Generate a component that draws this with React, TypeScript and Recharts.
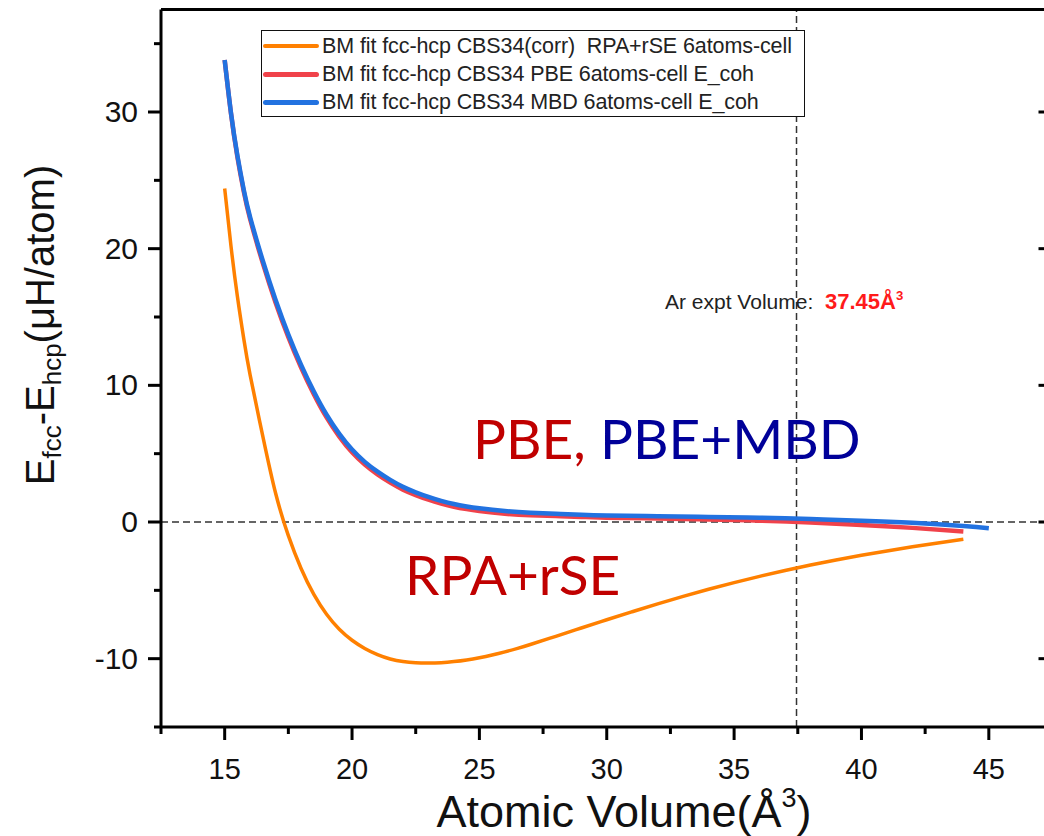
import React from "react";
import { LineChart, Line, XAxis, YAxis, ReferenceLine, Legend } from "recharts";

// axis ticks (minor every 2.5 / 5, labels only on the major ones)
const xTicks = [12.5, 15, 17.5, 20, 22.5, 25, 27.5, 30, 32.5, 35, 37.5, 40, 42.5, 45, 47.5];
const yTicks = [-15, -10, -5, 0, 5, 10, 15, 20, 25, 30, 35];
const xDomain = [12.5, 47.5];
const yDomain = [-15, 37.5];
const exptVolume = 37.45;

// RPA+rSE
const rpaVolume = [15, 15.25, 15.5, 15.75, 16, 16.5, 17, 17.5, 18, 18.5, 19, 19.5, 20, 20.5, 21, 21.5, 22, 22.5, 23, 23.5, 24, 24.5, 25, 25.5, 26, 26.5, 27, 28, 29, 30, 31, 32, 33, 34, 35, 36, 37, 38, 39, 40, 41, 42, 43, 44];
const rpaEnergy = [24.4, 20.15, 16.5, 13.4, 10.75, 6.25, 2.1, -1.0, -3.4, -5.3, -6.75, -7.85, -8.65, -9.25, -9.7, -10.02, -10.21, -10.3, -10.32, -10.29, -10.21, -10.09, -9.93, -9.735, -9.505, -9.245, -8.965, -8.365, -7.755, -7.155, -6.565, -5.995, -5.445, -4.925, -4.435, -3.975, -3.545, -3.145, -2.775, -2.435, -2.115, -1.815, -1.53, -1.26];

// PBE
const pbeVolume = [15, 15.25, 15.5, 15.75, 16, 16.5, 17, 17.5, 18, 18.5, 19, 19.5, 20, 20.5, 21, 21.5, 22, 22.5, 23, 23.5, 24, 24.5, 25, 26, 27, 28, 29, 30, 32, 34, 36, 38, 40, 42, 44];
const pbeEnergy = [33.8, 29.85, 26.7, 24.17, 22.15, 18.92, 16.05, 13.52, 11.3, 9.35, 7.65, 6.25, 5.1, 4.2, 3.48, 2.88, 2.37, 1.97, 1.63, 1.35, 1.12, 0.94, 0.8, 0.6, 0.49, 0.43, 0.37, 0.32, 0.25, 0.18, 0.1, -0.03, -0.22, -0.43, -0.7];

// PBE+MBD
const mbdVolume = [15, 15.25, 15.5, 15.75, 16, 16.5, 17, 17.5, 18, 18.5, 19, 19.5, 20, 20.5, 21, 21.5, 22, 22.5, 23, 23.5, 24, 24.5, 25, 26, 27, 28, 29, 30, 32, 34, 36, 38, 40, 42, 44, 45];
const mbdEnergy = [33.8, 29.9, 26.8, 24.3, 22.3, 19.1, 16.25, 13.72, 11.5, 9.55, 7.85, 6.45, 5.3, 4.4, 3.68, 3.08, 2.57, 2.17, 1.83, 1.55, 1.32, 1.14, 1.0, 0.8, 0.68, 0.6, 0.53, 0.48, 0.42, 0.37, 0.32, 0.22, 0.1, -0.06, -0.3, -0.46];

const seriesNames = [
  "BM fit fcc-hcp CBS34(corr)  RPA+rSE 6atoms-cell",
  "BM fit fcc-hcp CBS34 PBE 6atoms-cell E_coh",
  "BM fit fcc-hcp CBS34 MBD 6atoms-cell E_coh",
];
const seriesColors = ["#ff8000", "#f0424a", "#2272e0"];
const seriesWidths = [3.5, 4.5, 4.5];

const toPoints = (xs: number[], ys: number[]) => xs.map((x, i) => ({ x, y: ys[i] }));
const rpaData = toPoints(rpaVolume, rpaEnergy);
const pbeData = toPoints(pbeVolume, pbeEnergy);
const mbdData = toPoints(mbdVolume, mbdEnergy);

const FONT = "'Liberation Sans', Arial, Helvetica, sans-serif";

const xMajor = (v: number) => Number.isInteger(v) && v % 5 === 0;
const yMajor = (v: number) => v % 10 === 0;

function BottomTick(props: any) {
  const { x, y, payload } = props;
  const major = xMajor(payload.value);
  return (
    <g>
      <line x1={x} y1={y} x2={x} y2={y + (major ? 13 : 7)} stroke="#000" strokeWidth={3} />
      {major && (
        <text x={x} y={y + 52} textAnchor="middle" fontSize={29} fontFamily={FONT} fill="#111">
          {payload.value}
        </text>
      )}
    </g>
  );
}

function TopTick(props: any) {
  const { x, y, payload } = props;
  const major = xMajor(payload.value);
  return <line x1={x} y1={y} x2={x} y2={y + (major ? 13 : 6)} stroke="#000" strokeWidth={3} />;
}

function LeftTick(props: any) {
  const { x, y, payload } = props;
  const major = yMajor(payload.value);
  return (
    <g>
      <line x1={x} y1={y} x2={x - (major ? 13 : 7)} y2={y} stroke="#000" strokeWidth={3} />
      {major && (
        <text x={x - 23} y={y + 10} textAnchor="end" fontSize={30} fontFamily={FONT} fill="#111">
          {payload.value}
        </text>
      )}
    </g>
  );
}

function RightTick(props: any) {
  const { x, y, payload } = props;
  const major = yMajor(payload.value);
  return <line x1={x} y1={y} x2={x - (major ? 14 : 7)} y2={y} stroke="#000" strokeWidth={3} />;
}

function LegendBox(props: any) {
  // keep the plotting order, not the alphabetical one
  const payload = [...(props.payload || [])].sort(
    (a: any, b: any) => seriesNames.indexOf(a.value) - seriesNames.indexOf(b.value)
  );
  return (
    <div
      style={{
        width: 542,
        height: 84,
        border: "1.5px solid #111",
        background: "#fff",
        fontFamily: FONT,
        boxSizing: "content-box",
        paddingTop: 1,
      }}
    >
      {payload.map((p: any, i: number) => {
        const k = seriesNames.indexOf(p.value);
        return (
          <div key={i} style={{ display: "flex", alignItems: "center", height: 28 }}>
            <div
              style={{
                width: 56,
                height: seriesWidths[k] + 0.5,
                background: p.color,
                borderRadius: 3,
                marginLeft: 1,
              }}
            />
            <span style={{ marginLeft: 3, fontSize: 21.5, color: "#222", whiteSpace: "pre", letterSpacing: -0.1 }}>
              {p.value}
            </span>
          </div>
        );
      })}
    </div>
  );
}

export default function App() {
  return (
    <div
      style={{
        position: "absolute",
        left: 0,
        top: 0,
        width: 1044,
        height: 836,
        overflow: "hidden",
        background: "#fff",
        fontFamily: FONT,
      }}
    >
      <LineChart width={1072} height={836} margin={{ top: 9.5, right: 19.5, left: 81, bottom: 49 }}>
        <XAxis
          dataKey="x"
          type="number"
          domain={xDomain}
          ticks={xTicks}
          interval={0}
          allowDataOverflow
          height={60}
          tickSize={0}
          tickMargin={0}
          tickLine={false}
          tick={BottomTick}
          axisLine={{ stroke: "#000", strokeWidth: 3 }}
        />
        <XAxis
          xAxisId="top"
          orientation="top"
          mirror
          type="number"
          domain={xDomain}
          ticks={xTicks}
          interval={0}
          allowDataOverflow
          tickSize={0}
          tickMargin={0}
          tickLine={false}
          tick={TopTick}
          axisLine={{ stroke: "#000", strokeWidth: 3 }}
        />
        <YAxis
          type="number"
          domain={yDomain}
          ticks={yTicks}
          interval={0}
          allowDataOverflow
          width={80}
          tickSize={0}
          tickMargin={0}
          tickLine={false}
          tick={LeftTick}
          axisLine={{ stroke: "#000", strokeWidth: 3 }}
        />
        <YAxis
          yAxisId="right"
          orientation="right"
          mirror
          type="number"
          domain={yDomain}
          ticks={yTicks}
          interval={0}
          allowDataOverflow
          tickSize={0}
          tickMargin={0}
          tickLine={false}
          tick={RightTick}
          axisLine={{ stroke: "#000", strokeWidth: 3 }}
        />
        <ReferenceLine y={0} stroke="#333" strokeWidth={1.5} strokeDasharray="7 4" />
        <ReferenceLine x={exptVolume} stroke="#333" strokeWidth={1.5} strokeDasharray="7 4" />
        <Line
          data={rpaData}
          dataKey="y"
          name={seriesNames[0]}
          type="natural"
          stroke={seriesColors[0]}
          strokeWidth={seriesWidths[0]}
          dot={false}
          isAnimationActive={false}
        />
        <Line
          data={pbeData}
          dataKey="y"
          name={seriesNames[1]}
          type="natural"
          stroke={seriesColors[1]}
          strokeWidth={seriesWidths[1]}
          dot={false}
          isAnimationActive={false}
        />
        <Line
          data={mbdData}
          dataKey="y"
          name={seriesNames[2]}
          type="natural"
          stroke={seriesColors[2]}
          strokeWidth={seriesWidths[2]}
          dot={false}
          isAnimationActive={false}
        />
        <Legend
          layout="horizontal"
          verticalAlign="middle"
          align="center"
          content={LegendBox}
          wrapperStyle={{ left: 261, top: 30, width: 546, height: 88 }}
        />
      </LineChart>

      {/* y axis title */}
      <div
        style={{
          position: "absolute",
          left: -160,
          top: 300,
          width: 400,
          height: 50,
          lineHeight: "50px",
          textAlign: "center",
          fontSize: 40,
          color: "#111",
          transform: "rotate(-90deg)",
          whiteSpace: "nowrap",
        }}
      >
        E<sub style={{ fontSize: "0.65em", lineHeight: 0, verticalAlign: "-0.25em" }}>fcc</sub>-E
        <sub style={{ fontSize: "0.65em", lineHeight: 0, verticalAlign: "-0.25em" }}>hcp</sub>(μH/atom)
      </div>

      {/* x axis title */}
      <div
        style={{
          position: "absolute",
          left: 0,
          top: 788,
          width: 1248,
          height: 48,
          lineHeight: "48px",
          textAlign: "center",
          fontSize: 45,
          color: "#111",
          whiteSpace: "nowrap",
        }}
      >
        Atomic Volume(Å<sup style={{ fontSize: "0.6em", lineHeight: 0, verticalAlign: "0.75em" }}>3</sup>)
      </div>

      {/* experimental volume note */}
      <div
        style={{
          position: "absolute",
          left: 665,
          top: 289,
          fontSize: 21,
          color: "#222",
          whiteSpace: "pre",
          lineHeight: "26px",
        }}
      >
        Ar expt Volume:{"  "}
        <span style={{ color: "#ff1a1a", fontWeight: "bold", fontSize: 22 }}>
          37.45Å<sup style={{ fontSize: "0.6em", lineHeight: 0, verticalAlign: "0.7em" }}>3</sup>
        </span>
      </div>

      {/* method labels */}
      <div
        style={{
          position: "absolute",
          left: 473,
          top: 405,
          fontSize: 55,
          fontFamily: "Lato, 'Open Sans', sans-serif",
          whiteSpace: "pre",
          lineHeight: "66px",
        }}
      >
        <span style={{ color: "#c00000" }}>PBE, </span>
        <span style={{ color: "#000099" }}>PBE+MBD</span>
      </div>
      <div
        style={{
          position: "absolute",
          left: 405,
          top: 541,
          fontSize: 55,
          fontFamily: "Lato, 'Open Sans', sans-serif",
          color: "#c00000",
          whiteSpace: "pre",
          lineHeight: "66px",
        }}
      >
        RPA+rSE
      </div>
    </div>
  );
}
